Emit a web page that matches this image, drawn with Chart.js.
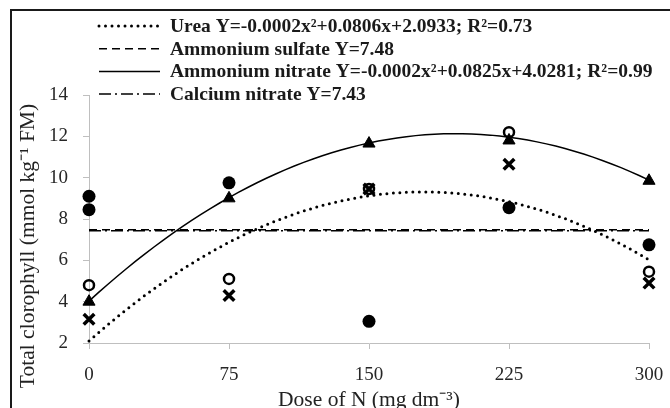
<!DOCTYPE html>
<html>
<head>
<meta charset="utf-8">
<script src="https://cdn.jsdelivr.net/npm/chart.js@4.4.1/dist/chart.umd.min.js"></script>
<style>
  html, body { margin: 0; padding: 0; background: #fff; }
</style>
</head>
<body>
<canvas id="chlorophyllChart" width="670" height="408"></canvas>
<script>
'use strict';

//--------> Data <--------
const doses = [0, 75, 150, 225, 300];
const ureaValues = [3.15, 4.3, 9.45, 10.65, 4.9]; // crosses
const sulfateDoses = [0, 0, 75, 150, 225, 300];
const sulfateValues = [9.1, 8.45, 9.75, 3.05, 8.55, 6.75]; // filled circles
const nitrateValues = [4.0, 9.0, 11.65, 11.8, 9.85]; // triangles
const calciumValues = [4.8, 5.1, 9.45, 12.2, 5.45]; // open circles

// y = a*x^2 + b*x + c
const ureaCoef = [-0.000225, 0.0806, 2.0933];
const nitrateCoef = [-0.00021, 0.0825, 4.0281];
const sulfateMean = 7.48;
const calciumMean = 7.43;

const legendLabels = [
  'Urea Y=-0.0002x²+0.0806x+2.0933; R²=0.73',
  'Ammonium sulfate Y=7.48',
  'Ammonium nitrate Y=-0.0002x²+0.0825x+4.0281; R²=0.99',
  'Calcium nitrate Y=7.43'
];
const xTitle = 'Dose of N (mg dm⁻³)';
const yTitle = 'Total clorophyll (mmol kg⁻¹ FM)';

//--------> Line styles <--------
const ureaDash = [0, 6.5];
const sulfateDash = [8, 5];
const calciumDash = [12, 4, 2, 4];
const SERIF = "'Liberation Serif', 'Times New Roman', serif";

function toPoints (xs, ys) {
  return xs.map((x, i) => ({ x: x, y: ys[i] }));
}

function quadCurve (coef) {
  let pts = [];
  for (let x = 0; x <= 300; x += 5) {
    pts.push({ x: x, y: coef[0] * x * x + coef[1] * x + coef[2] });
  }
  return pts;
}

function flatLine (value) {
  return [{ x: 0, y: value }, { x: 300, y: value }];
}

//--------> Plugins <--------
const framePlugin = {
  id: 'frame',
  afterDraw (chart) {
    const ctx = chart.ctx;
    ctx.save();
    ctx.strokeStyle = '#1a1a1a';
    ctx.lineWidth = 2;
    ctx.beginPath();
    ctx.moveTo(11, 408);
    ctx.lineTo(11, 10);
    ctx.lineTo(670, 10);
    ctx.stroke();
    ctx.restore();
  }
};

const legendPlugin = {
  id: 'lineLegend',
  afterDraw (chart) {
    const ctx = chart.ctx;
    const styles = [
      { dash: ureaDash, width: 3, cap: 'round' },
      { dash: sulfateDash, width: 1.5, cap: 'butt' },
      { dash: [], width: 1.5, cap: 'butt' },
      { dash: calciumDash, width: 1.5, cap: 'butt' }
    ];
    ctx.save();
    ctx.font = 'bold 19.5px ' + SERIF;
    ctx.textBaseline = 'middle';
    ctx.fillStyle = '#1a1a1a';
    legendLabels.forEach((label, i) => {
      const y = 26 + i * 22.7;
      ctx.strokeStyle = '#000';
      ctx.lineWidth = styles[i].width;
      ctx.lineCap = styles[i].cap;
      ctx.setLineDash(styles[i].dash);
      ctx.beginPath();
      ctx.moveTo(99, y);
      ctx.lineTo(160, y);
      ctx.stroke();
      ctx.setLineDash([]);
      ctx.fillText(label, 170, y + 1);
    });
    ctx.restore();
  }
};

const yTitlePlugin = {
  id: 'yTitle',
  afterDraw (chart) {
    const ctx = chart.ctx;
    ctx.save();
    ctx.translate(28, 246);
    ctx.rotate(-Math.PI / 2);
    ctx.font = '21.5px ' + SERIF;
    ctx.fillStyle = '#222';
    ctx.textAlign = 'center';
    ctx.textBaseline = 'middle';
    ctx.fillText(yTitle, 0, 0);
    ctx.restore();
  }
};

//--------> Chart <--------
const ctx = document.getElementById('chlorophyllChart').getContext('2d');
const chlorophyllChart = new Chart(ctx, {
  type: 'scatter',
  data: {
    datasets: [{
      label: 'Calcium nitrate',
      data: toPoints(doses, calciumValues),
      pointStyle: 'circle',
      pointRadius: 5,
      borderColor: '#000',
      backgroundColor: 'rgba(0,0,0,0)',
      borderWidth: 2.5,
      clip: false
    }, {
      label: 'Urea',
      data: toPoints(doses, ureaValues),
      pointStyle: 'crossRot',
      pointRadius: 7.5,
      borderColor: '#000',
      borderWidth: 3.5,
      clip: false
    }, {
      label: 'Ammonium nitrate',
      data: toPoints(doses, nitrateValues),
      pointStyle: 'triangle',
      pointRadius: 7,
      borderColor: '#000',
      backgroundColor: '#000',
      borderWidth: 1,
      clip: false
    }, {
      label: 'Ammonium sulfate',
      data: toPoints(sulfateDoses, sulfateValues),
      pointStyle: 'circle',
      pointRadius: 6.5,
      borderColor: '#000',
      backgroundColor: '#000',
      borderWidth: 0,
      clip: false
    }, {
      type: 'line',
      label: 'Urea trend',
      data: quadCurve(ureaCoef),
      borderColor: '#000',
      borderWidth: 3,
      borderDash: ureaDash,
      borderCapStyle: 'round',
      pointRadius: 0,
      tension: 0,
      clip: false
    }, {
      type: 'line',
      label: 'Ammonium nitrate trend',
      data: quadCurve(nitrateCoef),
      borderColor: '#000',
      borderWidth: 1.5,
      pointRadius: 0,
      tension: 0,
      clip: false
    }, {
      type: 'line',
      label: 'Ammonium sulfate mean',
      data: flatLine(sulfateMean),
      borderColor: '#000',
      borderWidth: 1.5,
      borderDash: sulfateDash,
      pointRadius: 0
    }, {
      type: 'line',
      label: 'Calcium nitrate mean',
      data: flatLine(calciumMean),
      borderColor: '#000',
      borderWidth: 1.5,
      borderDash: calciumDash,
      pointRadius: 0
    }]
  },
  options: {
    responsive: false,
    animation: false,
    devicePixelRatio: 1,
    layout: { autoPadding: false, padding: { left: 0, top: 95, right: 21, bottom: 0 } },
    plugins: {
      legend: { display: false },
      tooltip: { enabled: false }
    },
    scales: {
      x: {
        type: 'linear',
        min: 0,
        max: 300,
        afterFit: (scale) => {
          scale.height = 65;
          scale.paddingLeft = 0;
          scale.paddingRight = 0;
        },
        ticks: { stepSize: 75, color: '#262626', padding: 15, font: { family: SERIF, size: 19 } },
        grid: { drawOnChartArea: false, drawTicks: true, tickLength: 6, color: '#bfbfbf' },
        border: { display: true, color: '#bfbfbf', width: 1 },
        title: {
          display: true,
          text: xTitle,
          color: '#222',
          padding: { top: 0, bottom: 0 },
          font: { family: SERIF, size: 21.5, lineHeight: 0.7 }
        }
      },
      y: {
        min: 2,
        max: 14,
        afterFit: (scale) => {
          scale.width = 89;
          scale.paddingTop = 0;
          scale.paddingBottom = 0;
        },
        ticks: { stepSize: 2, color: '#262626', padding: 15, font: { family: SERIF, size: 19 } },
        grid: { drawOnChartArea: false, drawTicks: true, tickLength: 6, color: '#bfbfbf' },
        border: { display: true, color: '#bfbfbf', width: 1 }
      }
    }
  },
  plugins: [framePlugin, legendPlugin, yTitlePlugin]
});
</script>
</body>
</html>
